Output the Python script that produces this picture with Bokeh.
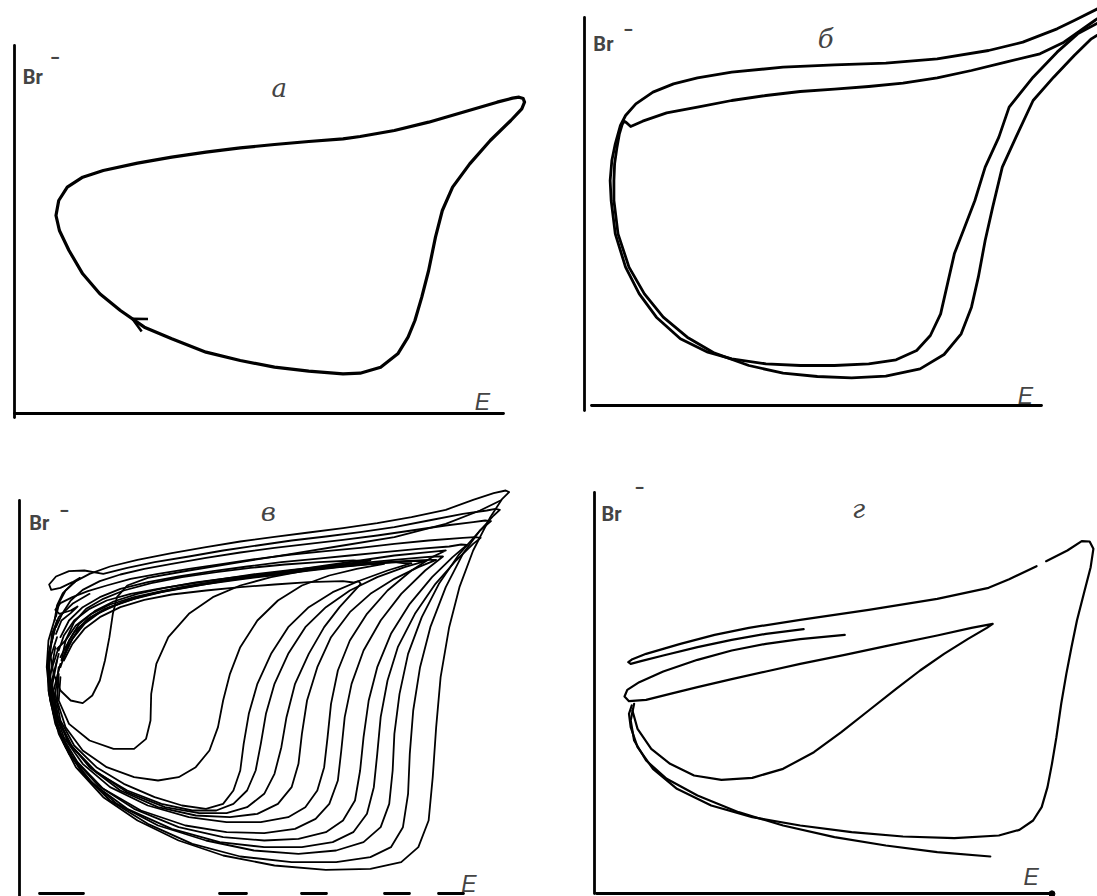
import math

from bokeh.embed import file_html
from bokeh.layouts import column, row
from bokeh.models import Arrow, FixedTicker, Label, LinearAxis, OpenHead
from bokeh.plotting import figure
from bokeh.resources import INLINE

GAP = math.nan

# ---------------------------------------------------------------------------
# Phase portraits in the (E, [Br-]) plane, arbitrary units.
# ---------------------------------------------------------------------------

# а: simple limit cycle
A_CYCLE = [
    (960, 120), (860, 128), (760, 140), (660, 160), (560, 185), (460, 225),
    (380, 260), (310, 310), (250, 360), (200, 420), (160, 490), (132, 550),
    (122, 595), (130, 640), (155, 680), (200, 710), (260, 730), (360, 752),
    (460, 770), (560, 785), (660, 798), (760, 808), (860, 817), (960, 825),
    (1010, 832), (1110, 850), (1210, 875), (1310, 905), (1410, 935),
    (1455, 947), (1474, 950), (1486, 946), (1490, 935), (1482, 915),
    (1450, 880), (1390, 820), (1330, 750), (1280, 680), (1250, 610),
    (1230, 530), (1210, 430), (1190, 350), (1170, 280), (1150, 230),
    (1120, 180), (1070, 140), (1010, 122), (960, 120),
]

# б: period-two cycle, its two turns
B_TURN_1 = [
    (1580, 1230), (1498, 1190), (1430, 1155), (1380, 1130), (1280, 1090),
    (1180, 1065), (1030, 1040), (880, 1027), (730, 1022), (580, 1015),
    (430, 1000), (330, 983), (260, 965), (200, 940), (150, 905), (120, 870),
    (105, 840), (90, 785), (80, 735), (75, 675), (78, 615), (90, 515),
    (120, 415), (160, 335), (210, 265), (280, 200), (360, 160), (430, 140),
    (530, 125), (630, 120), (730, 120), (830, 125), (910, 137), (970, 165),
    (1010, 210), (1040, 275), (1060, 365), (1080, 455), (1110, 535),
    (1140, 615), (1170, 715), (1210, 805), (1240, 895), (1310, 985),
    (1380, 1060), (1440, 1115), (1498, 1147), (1550, 1175), (1630, 1215),
]
B_TURN_2 = [
    (1630, 1245), (1570, 1215), (1490, 1155), (1400, 1090), (1330, 1055),
    (1230, 1030), (1130, 1005), (1030, 983), (930, 967), (830, 957),
    (730, 949), (630, 942), (530, 930), (430, 915), (330, 895), (240, 878),
    (170, 853), (135, 837), (122, 849), (116, 853), (110, 843), (102, 815),
    (95, 775), (88, 725), (86, 675), (86, 615), (98, 515), (130, 415),
    (175, 335), (230, 265), (300, 205), (380, 157), (480, 120), (580, 97),
    (680, 87), (780, 83), (880, 88), (980, 110), (1050, 153), (1100, 215),
    (1130, 295), (1150, 385), (1170, 495), (1192, 595), (1220, 715),
    (1260, 805), (1310, 915), (1370, 985), (1430, 1050), (1480, 1100),
    (1550, 1145), (1630, 1195),
]

# в: chaotic regime, successive turns of one trajectory
V_TURN_1 = [
    (1405, 1180), (1345, 1150), (1245, 1110), (1095, 1070), (945, 1045),
    (795, 1020), (645, 995), (495, 970), (375, 948), (315, 925), (285, 890),
    (273, 840), (263, 770), (250, 700), (235, 640), (213, 595), (185, 572),
    (150, 580), (120, 610), (100, 660), (90, 720), (95, 780), (115, 830),
    (155, 870), (205, 900),
]
V_TURN_2 = [
    (120, 650), (115, 580), (145, 510), (205, 460), (275, 435), (335, 435),
    (370, 465), (383, 520), (385, 600), (400, 690), (435, 770), (495, 840),
    (565, 890), (645, 925), (735, 950), (835, 970), (945, 988), (1025, 1000),
    (1005, 998), (975, 1000), (875, 995), (775, 988), (675, 978), (575, 965),
    (475, 950), (385, 932), (305, 910), (245, 885), (195, 855), (160, 815),
    (135, 760), (123, 700),
]
V_TURN_3 = [
    (115, 660), (110, 580), (135, 500), (185, 430), (255, 380), (335, 350),
    (405, 340), (465, 350), (515, 380), (555, 430), (580, 500), (595, 580),
    (615, 660), (645, 740), (695, 820), (755, 880), (825, 925), (905, 955),
    (985, 975), (1065, 990), (1045, 988), (1015, 990), (915, 982), (815, 972),
    (715, 960), (615, 948), (515, 934), (425, 918), (345, 900), (275, 877),
    (220, 848), (175, 810), (145, 760), (125, 700),
]
V_TURN_4 = [
    (115, 680), (105, 600), (120, 520), (160, 445), (225, 380), (305, 330),
    (395, 290), (475, 265), (545, 255), (595, 270), (625, 310), (645, 370),
    (655, 450), (670, 540), (695, 630), (735, 720), (785, 800), (845, 860),
    (915, 905), (995, 940), (1075, 970), (1145, 992), (1120, 992),
    (1095, 995), (995, 987), (895, 977), (795, 965), (695, 952), (595, 938),
    (505, 922), (415, 905), (335, 885), (265, 860), (210, 830), (170, 790),
    (140, 740), (120, 680),
]
V_TURN_5 = [
    (120, 690), (100, 610), (115, 520), (155, 440), (225, 365), (315, 310),
    (415, 270), (505, 250), (575, 250), (625, 270), (665, 310), (690, 370),
    (705, 450), (720, 540), (745, 630), (785, 720), (835, 800), (895, 860),
    (965, 910), (1045, 950), (1125, 980), (1185, 998), (1160, 998),
    (1135, 998), (1035, 990), (935, 980), (835, 968), (735, 955), (635, 942),
    (535, 928), (445, 912), (365, 895), (295, 872), (235, 844), (190, 810),
    (155, 765), (130, 710),
]
V_TURN_6 = [
    (110, 700), (95, 620), (110, 530), (150, 445), (220, 370), (315, 305),
    (425, 260), (525, 242), (605, 242), (665, 260), (715, 300), (745, 360),
    (765, 440), (780, 530), (805, 630), (845, 720), (890, 800), (935, 860),
    (975, 905), (997, 930), (990, 938), (975, 934), (945, 938), (845, 935),
    (745, 928), (645, 920), (545, 910), (445, 898), (365, 882), (295, 860),
    (235, 830), (190, 795), (155, 750), (130, 700),
]
V_TURN_7 = [
    (115, 720), (95, 640), (105, 550), (140, 460), (205, 380), (295, 310),
    (405, 260), (515, 235), (615, 230), (695, 240), (755, 270), (795, 320),
    (815, 390), (825, 480), (840, 580), (870, 680), (910, 770), (965, 845),
    (1025, 900), (1095, 945), (1165, 980), (1217, 1002), (1195, 1002),
    (1165, 1000), (1065, 995), (965, 985), (865, 975), (765, 963),
    (665, 950), (565, 935), (475, 920), (395, 902), (315, 880), (250, 855),
    (200, 825), (160, 785), (135, 740), (120, 710),
]
V_TURN_8 = [
    (105, 740), (90, 650), (100, 560), (130, 470), (185, 390), (265, 320),
    (375, 265), (495, 230), (605, 215), (705, 215), (785, 230), (835, 260),
    (870, 310), (890, 380), (900, 470), (910, 570), (930, 670), (965, 760),
    (1015, 840), (1075, 910), (1145, 970), (1205, 1010), (1245, 1030),
    (1225, 1028), (1195, 1025), (1095, 1015), (995, 1000), (895, 985),
    (795, 970), (695, 955), (595, 940), (505, 925), (415, 908), (335, 890),
    (265, 868), (210, 840), (165, 805), (135, 760), (110, 735),
]
V_TURN_9 = [
    (115, 740), (90, 660), (95, 570), (120, 480), (170, 395), (245, 315),
    (355, 250), (485, 205), (605, 185), (715, 182), (805, 195), (865, 225),
    (905, 270), (930, 340), (940, 430), (950, 530), (970, 630), (1005, 730),
    (1055, 820), (1115, 900), (1185, 970), (1237, 1012), (1215, 1012),
    (1185, 1010), (1095, 1002), (995, 992), (895, 982), (795, 972),
    (695, 960), (595, 945), (495, 930), (405, 915), (325, 900), (255, 880),
    (205, 855), (160, 820), (130, 775), (115, 730),
]
V_TURN_10 = [
    (110, 770), (85, 690), (87, 600), (110, 500), (155, 410), (230, 325),
    (335, 255), (465, 200), (595, 170), (715, 160), (815, 165), (895, 185),
    (945, 220), (980, 280), (995, 370), (1005, 470), (1020, 580),
    (1045, 680), (1085, 780), (1140, 870), (1205, 950), (1265, 1010),
    (1307, 1047), (1290, 1048), (1255, 1042), (1165, 1035), (1065, 1025),
    (965, 1015), (865, 1005), (765, 995), (665, 982), (565, 968), (465, 952),
    (375, 935), (295, 915), (235, 890), (185, 860), (145, 820), (120, 770),
]
V_TURN_11 = [
    (100, 780), (83, 700), (85, 610), (105, 510), (145, 420), (215, 330),
    (315, 255), (445, 195), (585, 155), (715, 140), (825, 140), (915, 155),
    (975, 185), (1015, 240), (1035, 320), (1045, 420), (1055, 530),
    (1075, 640), (1105, 740), (1155, 840), (1215, 930), (1275, 1000),
    (1325, 1050), (1347, 1068), (1330, 1070), (1295, 1068), (1195, 1060),
    (1095, 1050), (995, 1038), (895, 1028), (795, 1018), (695, 1005),
    (595, 990), (495, 975), (405, 960), (325, 945), (255, 925), (200, 908),
    (155, 890), (120, 872), (105, 852), (117, 840), (150, 850), (170, 862),
    (150, 842), (123, 820), (107, 780),
]
V_TURN_12 = [
    (105, 800), (85, 720), (85, 640), (100, 540), (135, 440), (195, 350),
    (285, 270), (405, 205), (545, 160), (685, 130), (815, 120), (925, 130),
    (1005, 155), (1055, 200), (1080, 270), (1090, 370), (1095, 480),
    (1110, 600), (1135, 720), (1175, 830), (1225, 930), (1285, 1020),
    (1345, 1090), (1377, 1118), (1360, 1120), (1325, 1115), (1245, 1105),
    (1145, 1090), (1045, 1075), (945, 1062), (845, 1050), (745, 1038),
    (645, 1024), (545, 1008), (445, 990), (365, 975), (295, 958), (235, 938),
    (185, 912), (150, 880), (125, 840), (107, 800),
]
V_TURN_13 = [
    (110, 820), (90, 740), (87, 650), (100, 550), (130, 450), (185, 360),
    (265, 280), (375, 210), (505, 150), (645, 112), (795, 95), (925, 95),
    (1025, 110), (1085, 140), (1120, 200), (1135, 300), (1140, 420),
    (1150, 550), (1170, 680), (1200, 800), (1245, 920), (1295, 1020),
    (1345, 1090), (1385, 1135), (1403, 1152), (1390, 1155), (1365, 1150),
    (1295, 1140), (1195, 1120), (1095, 1100), (995, 1085), (895, 1072),
    (795, 1060), (695, 1045), (595, 1030), (495, 1012), (395, 995),
    (315, 978), (245, 960), (190, 970), (145, 968), (107, 952), (87, 928),
    (93, 912), (120, 918), (155, 935), (177, 948), (157, 932), (127, 902),
    (110, 865), (103, 820),
]
V_TURN_14 = [
    (105, 830), (85, 760), (80, 680), (90, 580), (115, 480), (165, 380),
    (245, 290), (345, 220), (465, 160), (595, 115), (745, 85), (895, 72),
    (1025, 75), (1115, 95), (1165, 140), (1195, 220), (1207, 350),
    (1217, 500), (1230, 650), (1255, 800), (1285, 920), (1325, 1030),
    (1375, 1130), (1410, 1185), (1430, 1205), (1420, 1210), (1385, 1202),
    (1325, 1182), (1245, 1152), (1145, 1130), (1045, 1112), (945, 1097),
    (845, 1084), (745, 1071), (645, 1057), (545, 1040), (445, 1022),
    (345, 1002), (265, 982), (205, 960), (165, 938), (135, 910), (117, 875),
    (107, 832),
]
V_TURNS = [
    V_TURN_1, V_TURN_2, V_TURN_3, V_TURN_4, V_TURN_5, V_TURN_6, V_TURN_7,
    V_TURN_8, V_TURN_9, V_TURN_10, V_TURN_11, V_TURN_12, V_TURN_13, V_TURN_14,
]

# г: transient before settling on the cycle (the trace has a break near the tip)
G_PATH_1 = [
    (610, 794), (500, 780), (400, 762), (300, 740), (200, 715), (135, 698),
    (105, 690), (98, 695), (110, 704), (150, 720), (250, 750), (350, 777),
    (450, 798), (600, 822), (800, 852), (1000, 885), (1150, 918),
    (1210, 944), (1290, 983), (GAP, GAP), (1318, 998), (1380, 1030),
    (1422, 1058), (1445, 1057), (1456, 1035), (1448, 980), (1428, 900),
    (1408, 820), (1392, 740), (1377, 660), (1362, 570), (1348, 470),
    (1335, 390), (1322, 320), (1305, 260), (1280, 220), (1240, 192),
    (1180, 175), (1050, 167), (900, 172), (750, 185), (600, 205),
    (460, 230), (340, 265), (240, 315), (170, 375), (125, 440), (105, 500),
    (100, 540), (108, 565),
]
G_PATH_2 = [
    (730, 777), (600, 764), (500, 750), (400, 730), (300, 702), (200, 667),
    (130, 635), (95, 612), (87, 592), (100, 578), (150, 582), (220, 600),
    (300, 620), (400, 644), (500, 667), (600, 690), (730, 717), (850, 743),
    (1000, 775), (1100, 798), (1162, 810), (1145, 798), (1090, 765),
    (1020, 720), (950, 670), (880, 615), (800, 550), (720, 485), (640, 425),
    (550, 375), (460, 348), (370, 342), (290, 355), (220, 390), (165, 435),
    (125, 495), (110, 550),
]
G_PATH_3 = [
    (115, 570), (105, 520), (115, 460), (150, 400), (210, 345), (300, 295),
    (420, 245), (550, 205), (700, 170), (850, 145), (1000, 125), (1155, 112),
]

PANEL_LETTERS = ["а", "б", "в", "г"]
X_LABEL = "E"
Y_LABEL = "Br"
Y_LABEL_CHARGE = "−"


def xs_of(path):
    return [pt[0] for pt in path]


def ys_of(path):
    return [pt[1] for pt in path]


def make_panel(width, x_range, y_range, x_bounds, y_bounds, x_dash="solid",
               end_dot=False):
    p = figure(width=width, height=448, x_range=x_range, y_range=y_range,
               output_backend="svg", toolbar_location=None,
               x_axis_location=None, y_axis_location=None, min_border=0)
    p.outline_line_color = None
    p.xgrid.visible = False
    p.ygrid.visible = False
    style = dict(fixed_location=0, axis_line_color="black",
                 axis_line_width=2.8, axis_line_cap="round",
                 major_tick_line_color=None, minor_tick_line_color=None,
                 major_label_text_font_size="0px")
    p.add_layout(LinearAxis(ticker=FixedTicker(ticks=[]), bounds=x_bounds,
                            axis_line_dash=x_dash, **style), "below")
    p.add_layout(LinearAxis(ticker=FixedTicker(ticks=[]), bounds=y_bounds,
                            **style), "left")
    if end_dot:
        # the E axis of this panel ends in a small dot
        p.scatter([x_bounds[1]], [0], size=6, color="black")
    return p


def annotate(p, letter, letter_at, br_at, charge_at, e_at):
    p.add_layout(Label(x=br_at[0], y=br_at[1], text=Y_LABEL,
                       text_font="Roboto", text_font_style="bold",
                       text_font_size="20px", text_baseline="alphabetic"))
    p.add_layout(Label(x=charge_at[0], y=charge_at[1], text=Y_LABEL_CHARGE,
                       text_font="Roboto", text_font_style="bold",
                       text_font_size="18px", text_align="center",
                       text_baseline="middle"))
    p.add_layout(Label(x=letter_at[0], y=letter_at[1], text=letter,
                       text_font="DejaVu Serif", text_font_style="italic",
                       text_font_size="26px", text_align="center",
                       text_baseline="alphabetic"))
    p.add_layout(Label(x=e_at[0], y=e_at[1], text=X_LABEL,
                       text_font="Liberation Sans", text_font_style="italic",
                       text_font_size="23px", text_baseline="alphabetic"))


def trace(p, path, width):
    p.line(xs_of(path), ys_of(path), line_color="black", line_width=width,
           line_join="round", line_cap="round")


# --- а ---
pa = make_panel(548, (-40, 1560), (-104, 1240), (0, 1430), (-10, 1105))
trace(pa, A_CYCLE, 3.2)
head_from = A_CYCLE[5]
head_to = ((A_CYCLE[6][0] + A_CYCLE[7][0]) / 2, (A_CYCLE[6][1] + A_CYCLE[7][1]) / 2)
pa.add_layout(Arrow(end=OpenHead(size=14, line_width=2.6, line_color="black"),
                    x_start=head_from[0], y_start=head_from[1],
                    x_end=head_to[0], y_end=head_to[1], line_alpha=0))
annotate(pa, PANEL_LETTERS[0], (774, 979), (25, 1010), (119, 1070), (1345, 35))

# --- б ---
pb = make_panel(549, (-105, 1498), (-129, 1215), (20, 1335), (-15, 1165))
trace(pb, B_TURN_1, 2.8)
trace(pb, B_TURN_2, 2.8)
annotate(pb, PANEL_LETTERS[1], (704, 1100), (26, 1086), (128, 1128), (1265, 30))

# --- в ---
pv = make_panel(548, (-55, 1545), (-8, 1336), (60, 1330), (-8, 1180),
                x_dash="44 136 27 55 25 58 25 29 25 400")
for turn in V_TURNS:
    trace(pv, turn, 1.8)
annotate(pv, PANEL_LETTERS[2], (727, 1145), (29, 1114), (131, 1150), (1290, 31))

# --- г ---
pg = make_panel(549, (-135, 1468), (-8, 1336), (5, 1335), (0, 1205), end_dot=True)
for path in (G_PATH_1, G_PATH_2, G_PATH_3):
    trace(pg, path, 2.2)
annotate(pg, PANEL_LETTERS[3], (770, 1155), (20, 1141), (131, 1219), (1252, 50))

layout = column(row(pa, pb, spacing=0), row(pv, pg, spacing=0), spacing=0)

with open("out.html", "w") as f:
    f.write(file_html(layout, INLINE, "Фазовые портреты"))
